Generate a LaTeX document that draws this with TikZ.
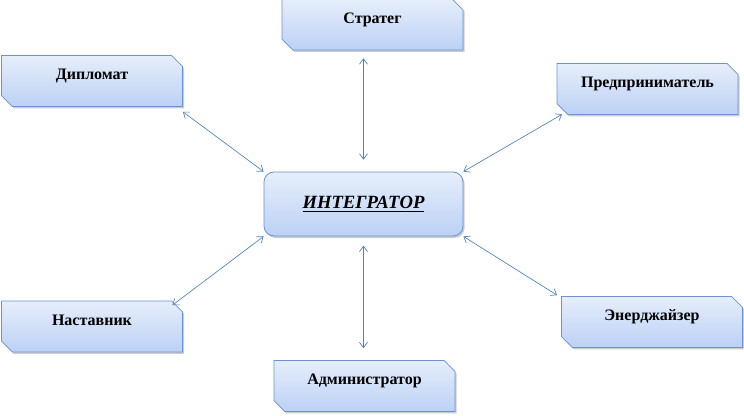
\documentclass[tikz,border=0pt]{standalone}
\usepackage{fontspec}
\setmainfont{Liberation Serif}
\usetikzlibrary{shapes.misc,shadows,arrows.meta}

\definecolor{boxline}{HTML}{6A93D4}
\definecolor{boxtop}{HTML}{E6EEFB}
\definecolor{boxbot}{HTML}{BCD1F5}
\definecolor{arrowblue}{HTML}{4F81BD}

\begin{document}
\begin{tikzpicture}[x=0.75pt, y=-0.75pt]
\tikzstyle{role} = [chamfered rectangle, chamfered rectangle corners={north east,south west}, chamfered rectangle xsep=5pt, draw=boxline, line width=0.6pt, top color=boxtop, bottom color=boxbot, minimum width=135.75pt, minimum height=32pt, inner ysep=0pt, text height=15pt, text depth=17pt, font=\bfseries\fontsize{12}{14}\selectfont, drop shadow={shadow xshift=1.2pt, shadow yshift=-1.5pt, fill=black!40, opacity=.5}]
\tikzstyle{core} = [rectangle, rounded corners=7.5pt, draw=boxline, line width=0.6pt, top color=boxtop, bottom color=boxbot, minimum width=149.25pt, minimum height=48pt, font=\bfseries\itshape\fontsize{14}{16}\selectfont, drop shadow={shadow xshift=1.2pt, shadow yshift=-1.5pt, fill=black!40, opacity=.5}]
\tikzstyle{link} = [arrowblue, line width=0.5pt, {Straight Barb[length=4pt,width=6pt]}-{Straight Barb[length=4pt,width=6pt]}]

\useasboundingbox (0,0) rectangle (744,415);

\node [core] (integ) at (363.5,204) {\underline{ИНТЕГРАТОР}};
\node [role] (strat) at (372.5,24.5) {Стратег};
\node [role] (dipl) at (92,81) {Дипломат};
\node [role] (entr) at (647.5,89) {Предприниматель};
\node [role] (ment) at (92,326.5) {Наставник};
\node [role] (ener) at (652,322) {Энерджайзер};
\node [role] (admin) at (364.5,386) {Администратор};

% links to the centre
\draw [link, shorten <=9pt, shorten >=6pt] (integ.north) -- (integ.north |- strat.south);
\draw [link, shorten <=7pt, shorten >=9pt] (integ.south) -- (integ.south |- admin.north);
\draw [link] (dipl.south east) ++(0,5) coordinate (d1) (d1) -- (integ.north west);
\draw [link] (entr.south west) ++(0,5) coordinate (e1) (e1) -- (integ.north east);
\draw [link] (ment.north east) ++(-5,-1) coordinate (m1) (m1) -- (integ.south west);
\draw [link] (ener.north west) ++(-4,-1) coordinate (n1) (n1) -- (integ.south east);
\end{tikzpicture}
\end{document}
